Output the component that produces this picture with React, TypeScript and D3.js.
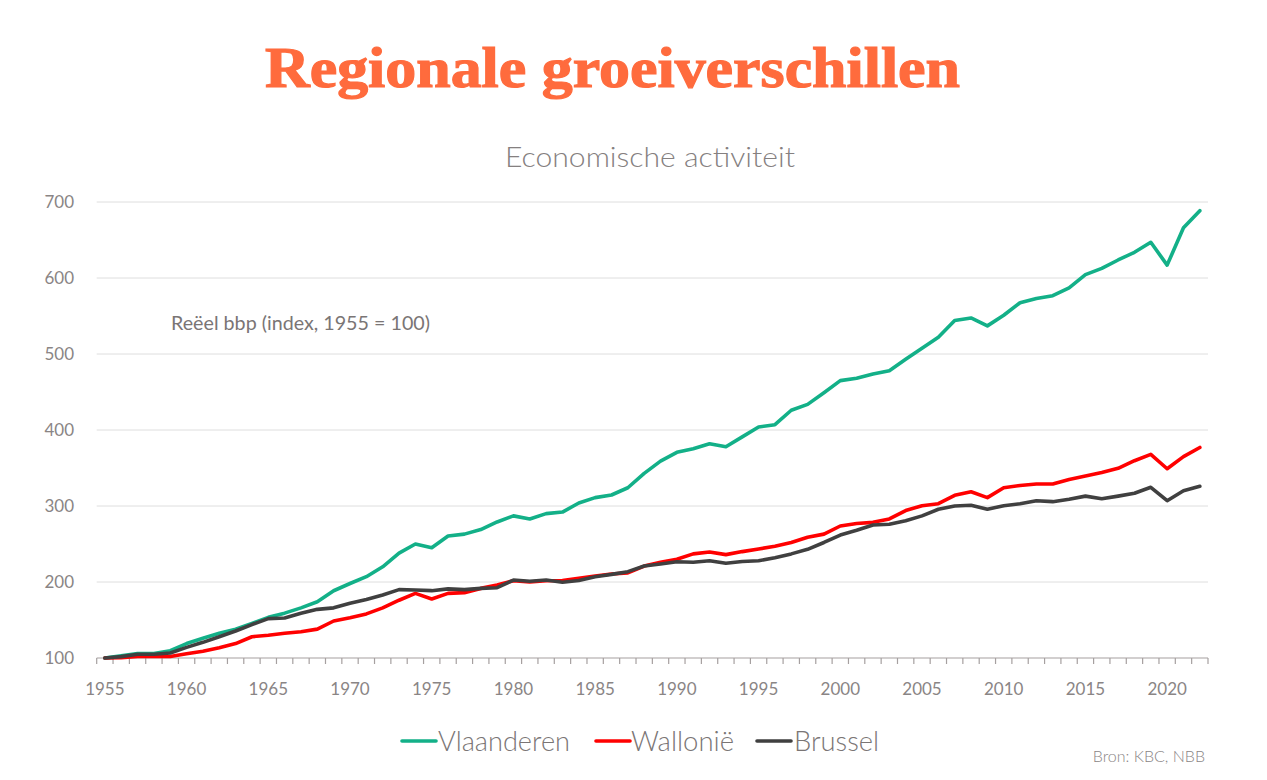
import React from "react";
import * as d3 from "d3";

const years: number[] = d3.range(1955, 2023);

const vlaanderen: number[] = [
  100, 103, 106, 106, 109.6, 119, 126, 132.5, 138, 145.6,
  153.5, 159, 166, 174, 188.5, 198, 207, 220, 238, 250,
  245, 260.5, 263, 269, 279, 287, 283, 290, 292, 304,
  311, 314.5, 324, 343, 359, 370.6, 375.4, 382, 378, 391,
  404, 407, 426, 433.7, 449, 465, 468, 473.7, 478, 493,
  507.5, 522, 544, 547.4, 537, 551, 567.5, 573, 576.7, 587,
  604.4, 612.7, 623.7, 633.8, 647, 617, 666, 688.6,
];

const wallonie: number[] = [
  100, 100.4, 102, 102, 102, 105.7, 109, 113.6, 119, 128,
  130, 132.5, 134.6, 138, 148.7, 153, 158, 166, 176, 185,
  177.6, 185, 186, 191.6, 196, 201.7, 200, 201.7, 202, 205,
  208, 210.5, 212, 221, 226, 230, 237, 239.5, 236, 240,
  243.5, 247, 252, 258.8, 263, 273.7, 277, 278.5, 283, 294,
  300.4, 303, 314, 318.8, 311, 324, 327, 329, 329, 335,
  339.5, 344, 349.6, 359.6, 368, 349, 365, 377,
];

const brussel: number[] = [
  100, 101.8, 105, 105, 106.6, 114, 120.6, 128, 135.5, 144,
  151.8, 152.6, 158.8, 164, 166, 172, 177, 183, 190, 189.5,
  188.6, 191, 190, 191.6, 192.5, 202.6, 201, 202.6, 199.6, 202,
  207, 210, 213.6, 221, 223.7, 226.7, 226, 228, 224.6, 227,
  228, 232, 237, 243, 252, 261.8, 268, 275, 276, 280.7,
  287, 295.7, 300, 301, 295.7, 300.4, 303, 307, 305.7, 309,
  313, 309.6, 313, 316.7, 324.6, 307, 320, 326,
];

const seriesNames: string[] = ["Vlaanderen", "Wallonië", "Brussel"];
const seriesColors: string[] = ["#13B088", "#FF0000", "#404040"];
const yTicks: number[] = [100, 200, 300, 400, 500, 600, 700];
const xLabelYears: number[] = [1955, 1960, 1965, 1970, 1975, 1980, 1985, 1990, 1995, 2000, 2005, 2010, 2015, 2020];

const W = 1267;
const H = 780;
const plotLeft = 96.7;
const plotRight = 1208;
const plotTop = 202;
const plotBottom = 658;
const textGrey = "#8a8585";

export default function App() {
  const x = d3.scaleBand<number>().domain(years).range([plotLeft, plotRight]).padding(0);
  const xc = (yr: number) => (x(yr) as number) + x.bandwidth() / 2;
  const y = d3.scaleLinear().domain([100, 700]).range([plotBottom, plotTop]);

  const data = [vlaanderen, wallonie, brussel];
  const line = d3
    .line<number>()
    .x((_, i) => xc(years[i]))
    .y((v) => y(v))
    .curve(d3.curveLinear);

  const tickXs = years.map((yr) => x(yr) as number).concat([plotRight]);

  const legendItems = [
    { swatch: 402, text: 438, len: 132 },
    { swatch: 596, text: 631, len: 103 },
    { swatch: 757, text: 794, len: 85 },
  ];

  return (
    <svg width={W} height={H} style={{ position: "absolute", left: 0, top: 0, background: "#fff" }}>
      <rect x={0} y={0} width={W} height={H} fill="#fff" />
      <text
        x={265}
        y={87}
        fontFamily="'Liberation Serif', 'DejaVu Serif', serif"
        fontWeight="bold"
        fontSize={58}
        fill="#FF6B3D"
        stroke="#FF6B3D"
        strokeWidth={1.2}
        textLength={695}
        lengthAdjust="spacingAndGlyphs"
      >
        Regionale groeiverschillen
      </text>
      <text
        x={505}
        y={167}
        fontFamily="Lato, 'Open Sans', sans-serif"
        fontWeight={300}
        fontSize={28}
        fill="#858080"
        textLength={290}
        lengthAdjust="spacingAndGlyphs"
      >
        Economische activiteit
      </text>

      {yTicks.map((t) => (
        <g key={t}>
          {t > 100 && (
            <line x1={plotLeft} x2={plotRight} y1={y(t)} y2={y(t)} stroke="#dedede" strokeWidth={1} />
          )}
          <text
            x={74}
            y={y(t) + 6}
            textAnchor="end"
            fontFamily="Lato, 'Open Sans', sans-serif"
            fontSize={17}
            fill={textGrey}
          >
            {t}
          </text>
        </g>
      ))}

      <line x1={plotLeft} x2={plotRight} y1={plotBottom} y2={plotBottom} stroke="#a6a0a0" strokeWidth={1.2} />
      {tickXs.map((tx, i) => (
        <line key={i} x1={tx} x2={tx} y1={plotBottom} y2={plotBottom + 6} stroke="#a6a0a0" strokeWidth={1.2} />
      ))}
      {xLabelYears.map((yr) => (
        <text
          key={yr}
          x={xc(yr)}
          y={695}
          textAnchor="middle"
          fontFamily="Lato, 'Open Sans', sans-serif"
          fontSize={17}
          fill={textGrey}
        >
          {yr}
        </text>
      ))}

      <text
        x={171}
        y={330}
        fontFamily="Lato, 'Open Sans', sans-serif"
        fontSize={19}
        fill="#7a7575"
        textLength={259}
        lengthAdjust="spacingAndGlyphs"
      >
        Reëel bbp (index, 1955 = 100)
      </text>

      {data.map((d, i) => (
        <path
          key={i}
          d={line(d) || ""}
          fill="none"
          stroke={seriesColors[i]}
          strokeWidth={3.6}
          strokeLinejoin="round"
          strokeLinecap="round"
        />
      ))}

      {seriesNames.map((name, i) => (
        <g key={name}>
          <line
            x1={legendItems[i].swatch}
            x2={legendItems[i].swatch + 34}
            y1={741}
            y2={741}
            stroke={seriesColors[i]}
            strokeWidth={3.6}
            strokeLinecap="round"
          />
          <text
            x={legendItems[i].text}
            y={751}
            fontFamily="Lato, 'Open Sans', sans-serif"
            fontWeight={300}
            fontSize={28}
            fill="#7a7575"
            textLength={legendItems[i].len}
            lengthAdjust="spacingAndGlyphs"
          >
            {name}
          </text>
        </g>
      ))}

      <text
        x={1205}
        y={762}
        textAnchor="end"
        fontFamily="Lato, 'Open Sans', sans-serif"
        fontWeight={300}
        fontSize={16}
        fill={textGrey}
      >
        Bron: KBC, NBB
      </text>
    </svg>
  );
}
